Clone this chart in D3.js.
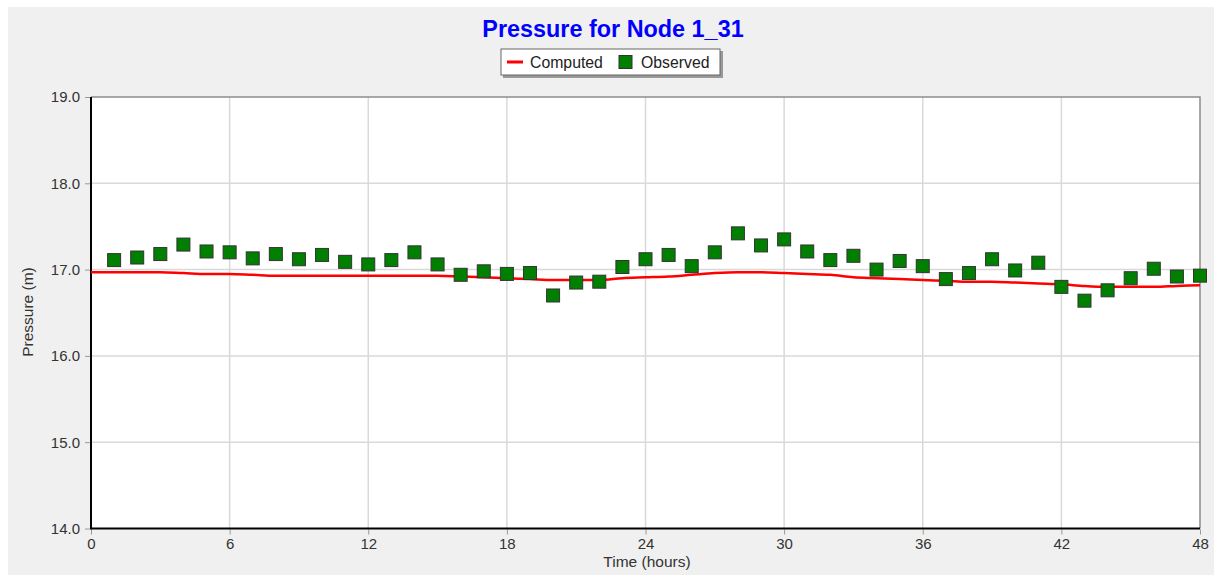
<!DOCTYPE html>
<html><head><meta charset="utf-8">
<script src="https://cdn.jsdelivr.net/npm/d3@7"></script>
<style>body{margin:0;background:#fff;}svg{display:block;font-family:"Liberation Sans",Arial,sans-serif;}</style>
</head><body>
<svg id="c" width="1214" height="577"></svg>
<script>
const titleText = "Pressure for Node 1_31";
const xTicks = [0, 6, 12, 18, 24, 30, 36, 42, 48];
const yTicks = [14, 15, 16, 17, 18, 19];
const computedHours = [0,1,2,3,4,5,6,7,8,9,10,11,12,13,14,15,16,17,18,19,20,21,22,23,24,25,26,27,28,29,30,31,32,33,34,35,36,37,38,39,40,41,42,43,44,45,46,47,48];
const computedValues = [16.97,16.97,16.97,16.97,16.96,16.95,16.95,16.94,16.93,16.93,16.93,16.93,16.93,16.93,16.93,16.93,16.92,16.91,16.90,16.89,16.88,16.88,16.88,16.90,16.91,16.92,16.94,16.96,16.97,16.97,16.96,16.95,16.94,16.91,16.90,16.89,16.88,16.87,16.86,16.86,16.85,16.84,16.83,16.81,16.80,16.80,16.80,16.81,16.82];
const observedHours = [1,2,3,4,5,6,7,8,9,10,11,12,13,14,15,16,17,18,19,20,21,22,23,24,25,26,27,28,29,30,31,32,33,34,35,36,37,38,39,40,41,42,43,44,45,46,47,48];
const observedValues = [17.11,17.14,17.18,17.29,17.21,17.20,17.13,17.18,17.12,17.17,17.09,17.06,17.11,17.20,17.06,16.94,16.98,16.95,16.96,16.70,16.85,16.86,17.03,17.12,17.17,17.04,17.20,17.42,17.28,17.35,17.21,17.11,17.16,17.00,17.10,17.04,16.89,16.96,17.12,16.99,17.08,16.80,16.64,16.76,16.90,17.01,16.92,16.93];

const svg = d3.select("#c");
const L = 91, R = 1200, T = 97, B = 528.5;
const FF = "'Liberation Sans',Arial,sans-serif";
svg.append("rect").attr("x",8).attr("y",7).attr("width",1206).attr("height",568).attr("fill","#f0f0f0");
svg.append("rect").attr("x",L).attr("y",T).attr("width",R-L).attr("height",B-T).attr("fill","#fff");

const x = d3.scaleLinear().domain([0,48]).range([L,R]);
const y = d3.scaleLinear().domain([14,19]).range([B,T]);

// grid
svg.append("g").selectAll("line").data(xTicks.slice(1,-1)).join("line")
  .attr("x1",d=>x(d)).attr("x2",d=>x(d)).attr("y1",T).attr("y2",B)
  .attr("stroke","#d9d9d9").attr("stroke-width",1.5);
svg.append("g").selectAll("line").data(yTicks.slice(1,-1)).join("line")
  .attr("x1",L).attr("x2",R).attr("y1",d=>y(d)).attr("y2",d=>y(d))
  .attr("stroke","#d9d9d9").attr("stroke-width",1.5);

// top/right border
svg.append("path").attr("d",`M${L},${T}H${R}V${B}`).attr("fill","none").attr("stroke","#8c8c8c").attr("stroke-width",1.5);

// axes
const yAxis = d3.axisLeft(y).tickValues(yTicks).tickFormat(d3.format(".1f")).tickSize(5).tickPadding(5);
const gy = svg.append("g").attr("transform",`translate(${L-1},0)`).call(yAxis);
gy.select(".domain").remove();
gy.selectAll(".tick line").attr("stroke","#999");
gy.selectAll(".tick text").attr("fill","#333").attr("font-size",15).attr("font-family",FF);

const xAxis = d3.axisBottom(x).tickValues(xTicks).tickFormat(d3.format("d")).tickSize(5).tickPadding(4);
const gx = svg.append("g").attr("transform",`translate(0,${B+1})`).call(xAxis);
gx.select(".domain").remove();
gx.selectAll(".tick line").attr("stroke","#999");
gx.selectAll(".tick text").attr("fill","#333").attr("font-size",15).attr("font-family",FF);

svg.append("line").attr("x1",L).attr("x2",L).attr("y1",T).attr("y2",B+1).attr("stroke","#000").attr("stroke-width",2);
svg.append("line").attr("x1",L).attr("x2",R).attr("y1",B).attr("y2",B).attr("stroke","#000").attr("stroke-width",2);

// computed line
const line = d3.line().x((d,i)=>x(computedHours[i])).y(d=>y(d)).curve(d3.curveMonotoneX);
svg.append("path").datum(computedValues).attr("d",line).attr("fill","none").attr("stroke","#ff0000").attr("stroke-width",2.5);

// observed squares
const s = 13;
svg.append("g").selectAll("rect").data(observedValues).join("rect")
  .attr("x",(d,i)=>x(observedHours[i])-s/2).attr("y",d=>y(d)-s/2)
  .attr("width",s).attr("height",s).attr("fill","#007f00").attr("stroke","#333").attr("stroke-width",1);

// titles
svg.append("text").attr("x",613).attr("y",37).attr("text-anchor","middle")
  .attr("font-size",23.4).attr("font-weight","bold").attr("fill","#0000ff").text(titleText);
svg.append("text").attr("x",647).attr("y",567).attr("text-anchor","middle")
  .attr("font-size",15.5).attr("fill","#333").text("Time (hours)");
svg.append("text").attr("transform","translate(33,312) rotate(-90)").attr("text-anchor","middle")
  .attr("font-size",15.5).attr("fill","#333").text("Pressure (m)");

// legend
const lg = svg.append("g");
lg.append("rect").attr("x",503).attr("y",51).attr("width",220).attr("height",27).attr("fill","#999");
lg.append("rect").attr("x",501).attr("y",49).attr("width",219).attr("height",26).attr("fill","#fff").attr("stroke","#666").attr("stroke-width",1);
lg.append("line").attr("x1",507).attr("x2",523).attr("y1",62).attr("y2",62).attr("stroke","#ff0000").attr("stroke-width",3);
lg.append("text").attr("x",530).attr("y",67.5).attr("font-size",15.8).attr("fill","#222").text("Computed");
lg.append("rect").attr("x",619).attr("y",55.5).attr("width",13).attr("height",13).attr("fill","#007f00").attr("stroke","#333");
lg.append("text").attr("x",641).attr("y",67.5).attr("font-size",15.8).attr("fill","#222").text("Observed");
</script>
</body></html>
